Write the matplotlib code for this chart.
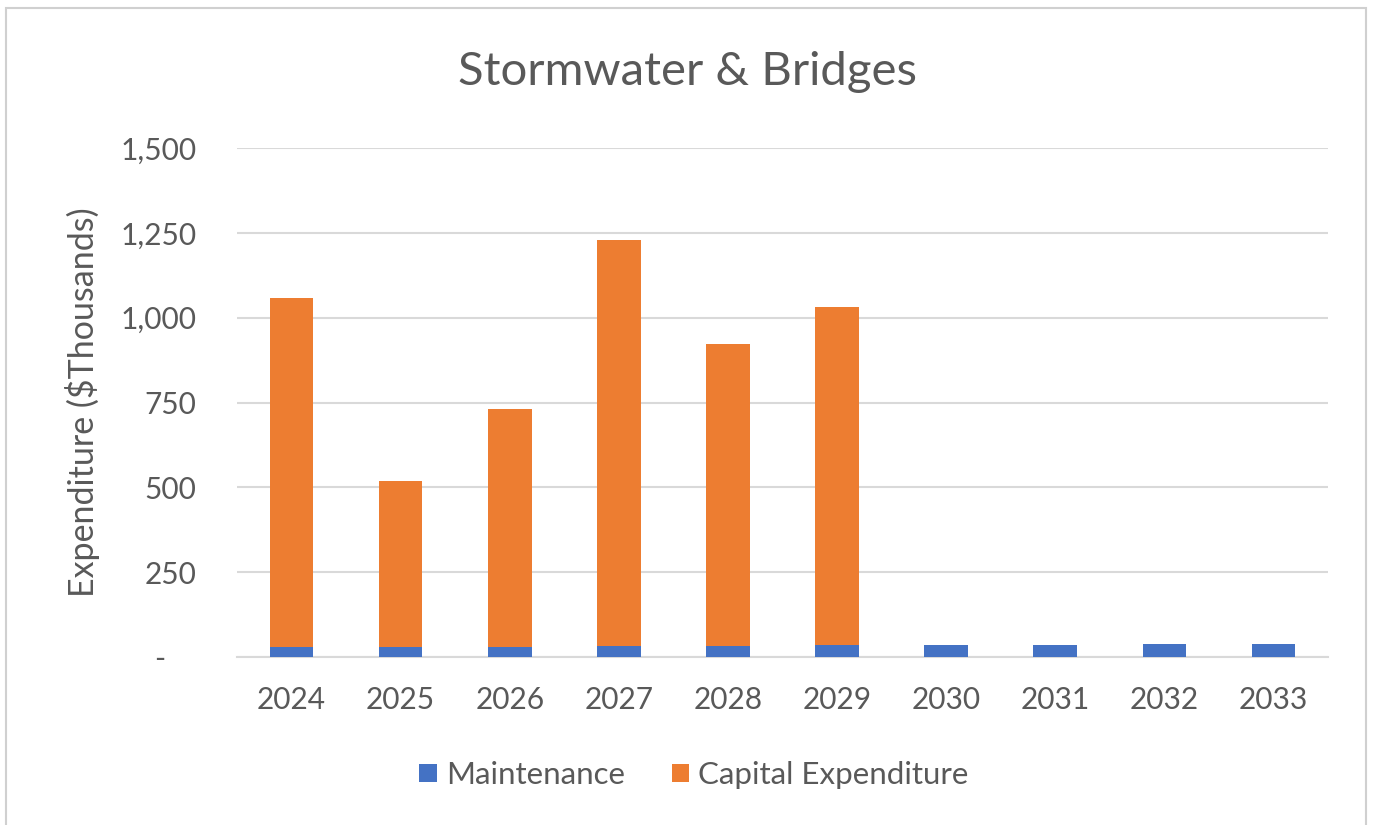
import matplotlib
matplotlib.use("Agg")
import matplotlib.pyplot as plt
from matplotlib.patches import Rectangle
from matplotlib.ticker import FuncFormatter

years = ["2024", "2025", "2026", "2027", "2028", "2029", "2030", "2031", "2032", "2033"]
maintenance = [28, 28, 30, 31, 32, 35, 35, 36, 37, 38]
capital = [1029, 491, 701, 1198, 890, 996, 0, 0, 0, 0]
y_ticks = [0, 250, 500, 750, 1000, 1250, 1500]

BLUE = "#4472C4"
ORANGE = "#ED7D31"
TEXT = "#595959"
GRID = "#D9D9D9"

plt.rcParams["font.family"] = ["Lato", "DejaVu Sans"]

fig = plt.figure(figsize=(13.73, 8.25), dpi=100)
fig.patch.set_facecolor("white")

# outer chart frame
fig.add_artist(Rectangle((6 / 1373, -0.05), (1366 - 6) / 1373, 1.05 - 8 / 825,
                         transform=fig.transFigure, fill=False,
                         edgecolor="#D0D0D0", linewidth=1.5))

ax = fig.add_axes([237 / 1373, 1 - 657 / 825, (1328 - 237) / 1373, (657 - 148) / 825])
x = range(len(years))
w = 0.4
ax.bar(x, maintenance, width=w, color=BLUE, label="Maintenance", zorder=3)
ax.bar(x, capital, width=w, bottom=maintenance, color=ORANGE,
       label="Capital Expenditure", zorder=3)

ax.set_xlim(-0.5, len(years) - 0.5)
ax.set_ylim(0, 1500)
ax.set_yticks(y_ticks)
ax.yaxis.set_major_formatter(FuncFormatter(lambda v, p: "-    " if v == 0 else f"{int(v):,}"))
ax.set_xticks(list(x))
ax.set_xticklabels(years)
ax.grid(axis="y", color=GRID, linewidth=1.5, zorder=0)
ax.set_axisbelow(True)
for s in ["top", "right", "left"]:
    ax.spines[s].set_visible(False)
ax.spines["bottom"].set_color(GRID)
ax.spines["bottom"].set_linewidth(1.5)
ax.tick_params(length=0, labelsize=21.5, colors=TEXT)
ax.tick_params(axis="y", pad=29)
ax.tick_params(axis="x", pad=21)
ax.set_ylabel("Expenditure ($Thousands)", fontsize=24.5, color=TEXT, labelpad=15)

fig.text(687 / 1373, 1 - 72 / 825, "Stormwater & Bridges", ha="center", va="center",
         fontsize=34, color=TEXT)

leg = fig.legend(loc="center", bbox_to_anchor=(694 / 1373, 1 - 775 / 825), ncol=2,
                 frameon=False, fontsize=22.5, handlelength=0.55, handleheight=0.55,
                 handletextpad=0.3, columnspacing=1.5)
for t in leg.get_texts():
    t.set_color(TEXT)

fig.savefig("out.png", dpi=100, facecolor="white")
